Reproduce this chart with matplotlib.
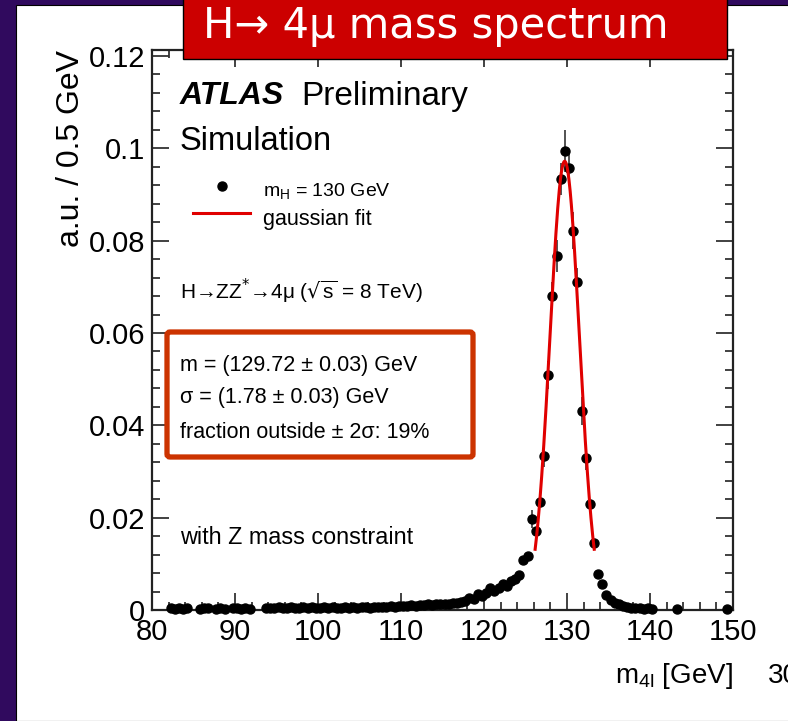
import numpy as np
import matplotlib
matplotlib.use("Agg")
import matplotlib.pyplot as plt
from matplotlib.patches import Rectangle, FancyBboxPatch
from matplotlib.lines import Line2D
from matplotlib.ticker import MultipleLocator, FixedLocator, FixedFormatter

# ---- data (bin centres, 0.5 GeV bins) ----
mass = [82.25, 82.75, 83.25, 83.75, 84.25, 85.75, 86.25, 86.75, 87.75, 88.25,
        88.75, 89.75, 90.25, 90.75, 91.25, 91.75,
        93.75, 94.25, 94.75, 95.25, 95.75, 96.25, 96.75, 97.25, 97.75, 98.25,
        98.75, 99.25, 99.75, 100.25, 100.75, 101.25, 101.75, 102.25, 102.75, 103.25,
        103.75, 104.25, 104.75, 105.25, 105.75, 106.25, 106.75, 107.25, 107.75, 108.25,
        108.75, 109.25, 109.75, 110.25, 110.75, 111.25, 111.75, 112.25, 112.75, 113.25,
        113.75, 114.25, 114.75, 115.25, 115.75, 116.25, 116.75,
        117.25, 117.75, 118.25, 118.75, 119.25, 119.75, 120.25, 120.75, 121.25, 121.75,
        122.25, 122.75, 123.25, 123.75, 124.25, 124.75, 125.25, 125.75, 126.25, 126.75,
        127.25, 127.75, 128.25, 128.75, 129.25, 129.75, 130.25, 130.75, 131.25, 131.75,
        132.25, 132.75, 133.25, 133.75, 134.25, 134.75, 135.25, 135.75, 136.25, 136.75,
        137.25, 137.75, 138.25, 138.75, 139.25, 139.75, 140.25, 143.25, 149.25]
au = [0.0004, 0.0003, 0.0005, 0.0003, 0.0004, 0.0003, 0.0005, 0.0004, 0.0003, 0.0004,
      0.0003, 0.0004, 0.0005, 0.0003, 0.0004, 0.0003,
      0.0004, 0.0005, 0.0004, 0.0006, 0.0005, 0.0004, 0.0006, 0.0005, 0.0004, 0.0006,
      0.0005, 0.0006, 0.0005, 0.0004, 0.0006, 0.0005, 0.0006, 0.0005, 0.0004, 0.0006,
      0.0005, 0.0006, 0.0005, 0.0007, 0.0006, 0.0005, 0.0007, 0.0006, 0.0007, 0.0006,
      0.0008, 0.0007, 0.0008, 0.0009, 0.0008, 0.0010, 0.0009, 0.0011, 0.0010, 0.0012,
      0.0011, 0.0013, 0.0012, 0.0014, 0.0013, 0.0015, 0.0016,
      0.0018, 0.0020, 0.0027, 0.0024, 0.0034, 0.0030, 0.0036, 0.0048, 0.0042, 0.0047,
      0.0056, 0.0052, 0.0063, 0.0068, 0.0075, 0.0108, 0.0118, 0.0197, 0.0171, 0.0235,
      0.0334, 0.0509, 0.0681, 0.0767, 0.0934, 0.0994, 0.0958, 0.0822, 0.0711, 0.0431,
      0.0329, 0.0229, 0.0146, 0.0078, 0.0056, 0.0033, 0.0022, 0.0016, 0.0012, 0.0008,
      0.0006, 0.0005, 0.0004, 0.0004, 0.0003, 0.0004, 0.0003, 0.0003, 0.0003]
# visible error bars (only around the peak), everything else hidden under the marker
peak_err = {127.25: 0.0025, 127.75: 0.003, 128.25: 0.003, 128.75: 0.0035,
            129.25: 0.0035, 129.75: 0.0045, 130.25: 0.0035, 130.75: 0.004,
            131.25: 0.003, 131.75: 0.003, 132.25: 0.0025, 125.75: 0.002}
au_err = [peak_err.get(m, 0.0003) for m in mass]

# gaussian fit parameters (from the text box)
fit_mean = 129.72
fit_sigma = 1.78
fit_peak = 0.0972

W, H = 788, 721
def fx(px):
    return px / W
def fy(py):
    return 1 - py / H

plt.rcParams['font.family'] = ['Liberation Sans', 'DejaVu Sans']
plt.rcParams['mathtext.fontset'] = 'dejavusans'

fig = plt.figure(figsize=(W / 100, H / 100), dpi=100)
fig.patch.set_facecolor('#300a5e')
fig.add_artist(Rectangle((fx(16), 0), 1, fy(5), transform=fig.transFigure,
                         facecolor='white', edgecolor='black', lw=0.8, zorder=-2))

ax = fig.add_axes([fx(152), fy(610), fx(733) - fx(152), fy(50) - fy(610)])
ax.set_xlim(80, 150)
ax.set_ylim(0, 0.1213)

# points + fit
ax.errorbar(mass, au, yerr=au_err, fmt='o', color='black', ms=6.5,
            ecolor='#444444', elinewidth=1.3, capsize=0, clip_on=False, zorder=3)
xfit = np.linspace(fit_mean - 2 * fit_sigma, fit_mean + 2 * fit_sigma, 200)
yfit = fit_peak * np.exp(-0.5 * ((xfit - fit_mean) / fit_sigma) ** 2)
ax.plot(xfit, yfit, color='#e00000', lw=2.2, zorder=4)

# ROOT-like axes
for s in ax.spines.values():
    s.set_linewidth(1.6)
    s.set_color('#222222')
ax.xaxis.set_major_locator(MultipleLocator(10))
ax.xaxis.set_minor_locator(MultipleLocator(2))
ax.yaxis.set_major_locator(FixedLocator([0, 0.02, 0.04, 0.06, 0.08, 0.1, 0.12]))
ax.yaxis.set_major_formatter(FixedFormatter(['0', '0.02', '0.04', '0.06', '0.08', '0.1', '0.12']))
ax.yaxis.set_minor_locator(MultipleLocator(0.004))
ax.tick_params(which='both', direction='in', top=True, right=True, color='#333333',
               labelsize=21, width=1.3)
ax.tick_params(which='major', length=12)
ax.tick_params(which='minor', length=6)
ax.tick_params(axis='x', pad=6)
ax.tick_params(axis='y', pad=5)

ax.set_ylabel('a.u. / 0.5 GeV', fontsize=23, loc='top', labelpad=2)
fig.text(fx(733), fy(676), r'$\mathregular{m_{4l}}$ [GeV]', fontsize=20,
         ha='right', va='center')

# labels inside the frame
fig.text(fx(180), fy(96), 'ATLAS', fontsize=23, fontweight='bold', fontstyle='italic',
         va='center')
fig.text(fx(301), fy(96), 'Preliminary', fontsize=24, va='center')
fig.text(fx(180), fy(141), 'Simulation', fontsize=23.5, va='center')

fig.add_artist(Line2D([fx(222)], [fy(186)], marker='o', ms=6.5, color='black',
                      transform=fig.transFigure))
fig.add_artist(Line2D([fx(193), fx(250)], [fy(213), fy(213)], color='#e00000', lw=2.2,
                      transform=fig.transFigure))
fig.text(fx(263), fy(191), r'$\mathregular{m_{H}}$ = 130 GeV', fontsize=14, va='center')
fig.text(fx(263), fy(220), 'gaussian fit', fontsize=15.5, va='center')
fig.text(fx(180), fy(291), r'H→ZZ$^{*}$→4μ ($\mathregular{\sqrt{s}}$ = 8 TeV)', fontsize=15,
         va='center')

fig.text(fx(180), fy(365), 'm = (129.72 ± 0.03) GeV', fontsize=15.5, va='center')
fig.text(fx(180), fy(398), 'σ = (1.78 ± 0.03) GeV', fontsize=15.5, va='center')
fig.text(fx(180), fy(433), 'fraction outside ± 2σ: 19%', fontsize=15.5, va='center')
fig.text(fx(180), fy(538), 'with Z mass constraint', fontsize=16.8, va='center')

fig.add_artist(FancyBboxPatch((fx(167), fy(457)), fx(473) - fx(167), fy(332) - fy(457),
                              boxstyle='round,pad=0,rounding_size=0.004',
                              transform=fig.transFigure, facecolor='none',
                              edgecolor='#cc3300', lw=3.8, zorder=5))

# slide title box
fig.add_artist(Rectangle((fx(183), fy(59)), fx(727) - fx(183), fy(-5) - fy(59),
                         transform=fig.transFigure, facecolor='#cc0000',
                         edgecolor='black', lw=1, zorder=10))
fig.text(fx(203), fy(38), 'H→ 4μ mass spectrum', fontsize=30, color='white',
         family='DejaVu Sans', va='baseline', zorder=11)

# slide number, cut by the edge
fig.text(fx(768), fy(676), '30', fontsize=20, va='center')

fig.savefig('out.png', dpi=100, facecolor=fig.get_facecolor())
